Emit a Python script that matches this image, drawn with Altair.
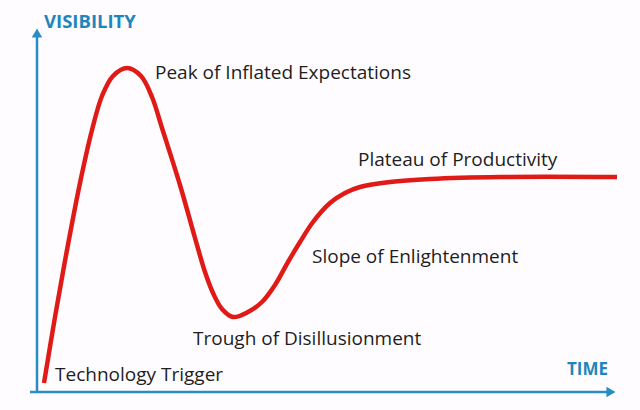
import altair as alt
import pandas as pd

# Hype curve: time (x) vs visibility (y)
curve_time = [7, 18, 30, 43, 55, 65, 76, 90, 104, 115, 125, 143, 158, 168, 176, 185, 196,
              211, 225, 238, 251, 263, 276, 293, 308, 323, 353, 393, 463, 580]
curve_vis = [9, 75, 142, 209, 262, 296, 316, 324, 316, 295, 264, 207, 154, 120, 99, 83, 75,
             80, 90, 107, 130, 150, 170, 189, 199, 205, 210, 213, 215, 215]

labels = ["Peak of Inflated Expectations", "Plateau of Productivity", "Slope of Enlightenment",
          "Trough of Disillusionment", "Technology Trigger"]
label_time = [118, 321, 275, 156, 18]
label_vis = [319, 232, 135, 53, 17]

axis_titles = ["VISIBILITY", "TIME"]
axis_title_time = [7, 530]
axis_title_vis = [370, 22]
axis_title_size = [18.5, 17]

x_scale = alt.Scale(domain=[-37, 603], range=[0, 640], nice=False, zero=False)
y_scale = alt.Scale(domain=[-18, 392], range=[410, 0], nice=False, zero=False)

curve_df = pd.DataFrame({"t": curve_time, "v": curve_vis, "o": list(range(len(curve_time)))})
label_df = pd.DataFrame({"t": label_time, "v": label_vis, "label": labels})
title_df = pd.DataFrame({"t": axis_title_time, "v": axis_title_vis, "label": axis_titles,
                         "s": axis_title_size})

axis_color = "#2a8cc4"

x_axis = alt.Chart(pd.DataFrame({"t": [-7], "t2": [570], "v": [0]})).mark_rule(
    color=axis_color, strokeWidth=2.5).encode(
    x=alt.X("t:Q", scale=x_scale, axis=None), x2="t2:Q",
    y=alt.Y("v:Q", scale=y_scale, axis=None))
y_axis = alt.Chart(pd.DataFrame({"t": [0], "v": [0], "v2": [355]})).mark_rule(
    color=axis_color, strokeWidth=2.5).encode(
    x=alt.X("t:Q", scale=x_scale, axis=None),
    y=alt.Y("v:Q", scale=y_scale, axis=None), y2="v2:Q")
arrow_up = alt.Chart(pd.DataFrame({"t": [0], "v": [359]})).mark_point(
    shape="triangle-up", filled=True, size=110, color=axis_color, opacity=1).encode(
    x=alt.X("t:Q", scale=x_scale, axis=None), y=alt.Y("v:Q", scale=y_scale, axis=None))
arrow_right = alt.Chart(pd.DataFrame({"t": [574], "v": [0]})).mark_point(
    shape="triangle-right", filled=True, size=110, color=axis_color, opacity=1).encode(
    x=alt.X("t:Q", scale=x_scale, axis=None), y=alt.Y("v:Q", scale=y_scale, axis=None))

line = alt.Chart(curve_df).mark_line(color="#df1a17", strokeWidth=4.5, interpolate="catmull-rom").encode(
    x=alt.X("t:Q", scale=x_scale, axis=None),
    y=alt.Y("v:Q", scale=y_scale, axis=None),
    order="o:Q")

text = alt.Chart(label_df).mark_text(align="left", baseline="middle", fontSize=19,
                                     font="Open Sans", color="#1e1e1e").encode(
    x=alt.X("t:Q", scale=x_scale, axis=None),
    y=alt.Y("v:Q", scale=y_scale, axis=None), text="label:N")

titles = alt.Chart(title_df).mark_text(align="left", baseline="middle",
                                       font="Open Sans", fontWeight="bold", color="#1f86bd").encode(
    x=alt.X("t:Q", scale=x_scale, axis=None),
    y=alt.Y("v:Q", scale=y_scale, axis=None), text="label:N",
    size=alt.Size("s:Q", scale=None, legend=None))

chart = alt.layer(x_axis, y_axis, arrow_up, arrow_right, line, text, titles).properties(
    width=640, height=410, padding=0, autosize=alt.AutoSizeParams(type="none"),
    background="#fefcfe"
).configure_view(stroke=None)

chart.save("out.html", embed_options={"renderer": "svg", "actions": False})
